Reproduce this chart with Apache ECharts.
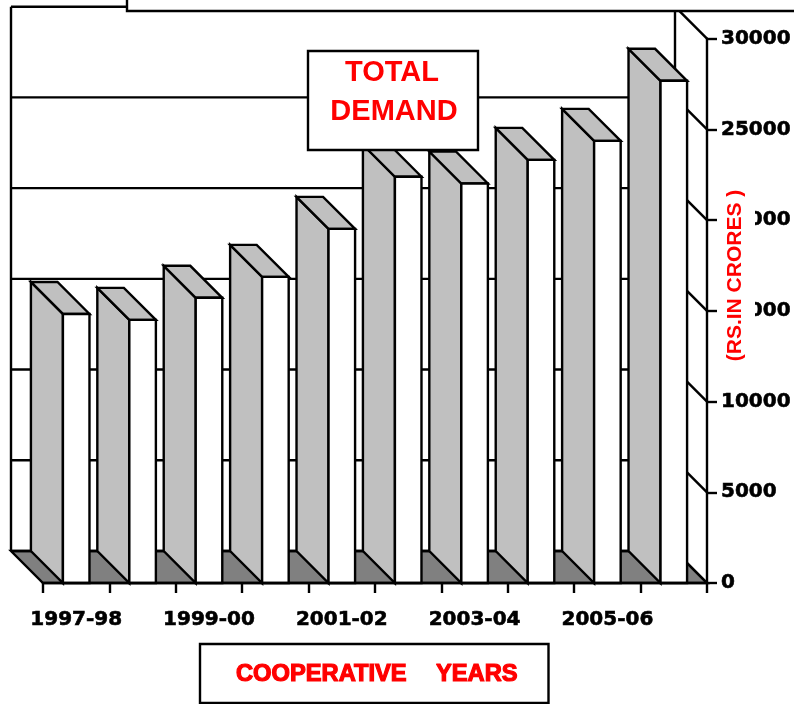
<!DOCTYPE html>
<html>
<head>
<meta charset="utf-8">
<style>html,body{margin:0;padding:0;background:#fff}#main{width:794px;height:704px}</style>
<script src="https://cdn.jsdelivr.net/npm/echarts@6/dist/echarts.min.js"></script>
</head>
<body>
<div id="main"></div>
<script>
var categories = ['1997-98','1998-99','1999-00','2000-01','2001-02','2002-03','2003-04','2004-05','2005-06','2006-07'];
var totalDemand = [14830,14500,15720,16870,19520,22390,22020,23320,24370,27680];
var yTicks = [0,5000,10000,15000,20000,25000,30000];

var DEPTH = 32;           // 3d offset of the back wall, px
var LW = 2.4;
var LINE = {stroke:'#000',lineWidth:LW};
var myChart = echarts.init(document.getElementById('main'));

// back wall, left wall line, floor, right wall lines
function renderWalls(params, api) {
	var cs = params.coordSys;
	var left = cs.x, right = cs.x + cs.width;
	var y0 = api.coord([0, 0])[1];
	var kids = [];
	kids.push({type:'polygon',shape:{points:[[left-DEPTH,y0-DEPTH],[right-DEPTH,y0-DEPTH],[right,y0],[left,y0]]},
		style:{fill:'#808080',stroke:'#000',lineWidth:LW}});
	var yTop = api.coord([0, yTicks[yTicks.length-1]])[1];
	kids.push({type:'line',shape:{x1:left-DEPTH,y1:yTop-DEPTH,x2:left-DEPTH,y2:y0-DEPTH},style:LINE});
	kids.push({type:'line',shape:{x1:right-DEPTH,y1:yTop-DEPTH,x2:right-DEPTH,y2:y0-DEPTH},style:LINE});
	for (var i = 0; i < yTicks.length; i++) {
		var y = api.coord([0, yTicks[i]])[1];
		kids.push({type:'line',shape:{x1:left-DEPTH,y1:y-DEPTH,x2:right-DEPTH,y2:y-DEPTH},style:LINE});
		kids.push({type:'line',shape:{x1:right-DEPTH,y1:y-DEPTH,x2:right,y2:y},style:LINE});
	}
	return {type:'group',children:kids};
}

function renderBar(params, api) {
	var c = api.coord([api.value(0), api.value(1)]);
	var y0 = api.coord([api.value(0), 0])[1];
	var w = api.size([1, 0])[0] / 2.5;
	var x1 = c[0] - w / 2, x2 = c[0] + w / 2, y = c[1];
	return {type:'group',children:[
		{type:'polygon',shape:{points:[[x1-DEPTH,y-DEPTH],[x1,y],[x1,y0],[x1-DEPTH,y0-DEPTH]]},
			style:{fill:'#c0c0c0',stroke:'#000',lineWidth:LW}},
		{type:'polygon',shape:{points:[[x1-DEPTH,y-DEPTH],[x2-DEPTH,y-DEPTH],[x2,y],[x1,y]]},
			style:{fill:'#c0c0c0',stroke:'#000',lineWidth:LW}},
		{type:'rect',shape:{x:x1,y:y,width:w,height:y0-y},
			style:{fill:'#fff',stroke:'#000',lineWidth:LW}}
	]};
}

var barData = [];
for (var i = 0; i < categories.length; i++) {
	barData.push([i, totalDemand[i]]);
}

var option = {
	animation:false,
	backgroundColor:'#fff',
	grid:{left:43,right:87,top:38.7,bottom:121,outerBoundsMode:'none'},
	xAxis:{
		type:'category',
		data:categories,
		z:5,
		axisLine:{lineStyle:{color:'#000',width:LW}},
		axisTick:{show:true,interval:0,length:10,lineStyle:{color:'#000',width:LW}},
		axisLabel:{interval:1,margin:27,color:'#000',fontFamily:'DejaVu Sans',fontWeight:'bold',fontSize:20,textBorderColor:'#000',textBorderWidth:0.6}
	},
	yAxis:{
		type:'value',
		position:'right',
		min:0,max:30000,interval:5000,
		z:5,
		splitLine:{show:false},
		axisLine:{show:true,lineStyle:{color:'#000',width:LW}},
		axisTick:{show:true,length:10,lineStyle:{color:'#000',width:LW}},
		axisLabel:{margin:14,padding:[2,0,0,0],color:'#000',fontFamily:'DejaVu Sans',fontWeight:'bold',fontSize:20,textBorderColor:'#000',textBorderWidth:0.6,
			formatter:function(v){return String(v);}}
	},
	series:[
		{type:'custom',silent:true,z:1,clip:false,renderItem:renderWalls,data:[[0,0]]},
		{type:'custom',name:'TOTAL DEMAND',z:2,clip:false,renderItem:renderBar,data:barData,encode:{x:0,y:1}}
	],
	graphic:{z:100,elements:[
		// strip across the top that cuts the back wall off
		{type:'rect',z:100,shape:{x:127,y:-5,width:680,height:16},style:{fill:'#fff',stroke:'#000',lineWidth:LW}},
		{type:'rect',z:100,shape:{x:308,y:51,width:170,height:99},style:{fill:'#fff',stroke:'#000',lineWidth:LW}},
		{type:'text',z:101,style:{x:392,y:73,text:'TOTAL',fill:'#f00',font:'bold 29px "Liberation Sans"',textAlign:'center',textVerticalAlign:'middle'}},
		{type:'text',z:101,style:{x:394,y:112,text:'DEMAND',fill:'#f00',font:'bold 29px "Liberation Sans"',textAlign:'center',textVerticalAlign:'middle'}},
		// axis name box sits over the tick labels
		{type:'rect',z:100,shape:{x:720,y:185,width:35,height:180},style:{fill:'#fff'}},
		{type:'text',z:101,x:735,y:275.5,rotation:Math.PI/2,style:{x:0,y:0,text:'(RS.IN CRORES )',fill:'#f00',font:'bold 21px "Liberation Sans"',textAlign:'center',textVerticalAlign:'middle'}},
		{type:'rect',z:100,shape:{x:200,y:644,width:348.5,height:59},style:{fill:'#fff',stroke:'#000',lineWidth:LW}},
		{type:'text',z:101,style:{x:236,y:674,text:'COOPERATIVE',fill:'#f00',stroke:'#f00',lineWidth:1.2,font:'bold 23.7px "Liberation Sans"',textAlign:'left',textVerticalAlign:'middle'}},
		{type:'text',z:101,style:{x:436,y:674,text:'YEARS',fill:'#f00',stroke:'#f00',lineWidth:1.2,font:'bold 23.7px "Liberation Sans"',textAlign:'left',textVerticalAlign:'middle'}}
	]}
};
myChart.setOption(option);
</script>
</body>
</html>
